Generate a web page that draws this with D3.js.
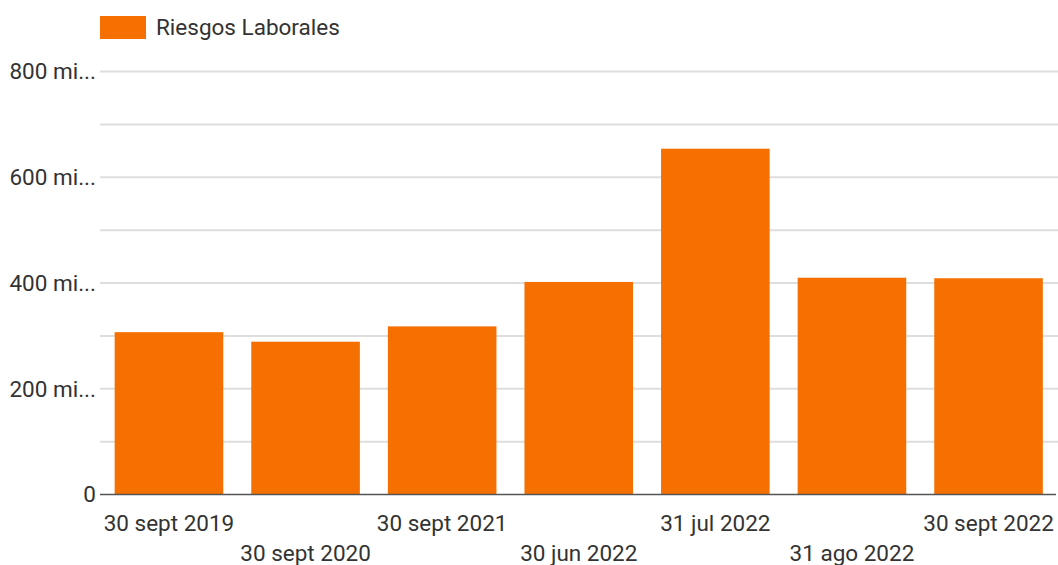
<!DOCTYPE html>
<html><head><meta charset="utf-8">
<script src="https://cdn.jsdelivr.net/npm/d3@7"></script>
<style>body{margin:0;background:#fff}svg{display:block}text{font-family:Roboto,sans-serif}</style>
</head><body>
<svg id="c" width="1058" height="565"></svg>
<script>
const categories = ["30 sept 2019","30 sept 2020","30 sept 2021","30 jun 2022","31 jul 2022","31 ago 2022","30 sept 2022"];
const values = [307, 289, 318, 402, 654, 410, 409];
const seriesName = "Riesgos Laborales";
const yTicks = [0, 200, 400, 600, 800];
const yTickLabels = ["0", "200 mi...", "400 mi...", "600 mi...", "800 mi..."];
const gridValues = [100, 200, 300, 400, 500, 600, 700, 800];

const svg = d3.select("#c");
const color = "#f57000";
const fs = 22.5;
const x = d3.scaleBand().domain(categories).range([101, 1056.5]).paddingInner(0.205).paddingOuter(0.1);
const y = d3.scaleLinear().domain([0, 800]).range([494.5, 71.5]);

svg.append("g").selectAll("line").data(gridValues).join("line")
  .attr("x1", 100).attr("x2", 1058)
  .attr("y1", d => y(d)).attr("y2", d => y(d))
  .attr("stroke", "#dedede").attr("stroke-width", 2);

svg.append("g").selectAll("rect").data(values).join("rect")
  .attr("x", (d, i) => x(categories[i]))
  .attr("width", x.bandwidth())
  .attr("y", d => y(d))
  .attr("height", d => y(0) - y(d))
  .attr("fill", color);

svg.append("line").attr("x1", 100).attr("x2", 1056).attr("y1", y(0)).attr("y2", y(0))
  .attr("stroke", "#555").attr("stroke-width", 1.5);

svg.append("g").selectAll("text").data(yTicks).join("text")
  .attr("x", 96).attr("y", d => y(d)).attr("dy", "0.35em")
  .attr("text-anchor", "end").attr("font-size", fs).attr("fill", "#333")
  .text((d, i) => yTickLabels[i]);

svg.append("g").selectAll("text").data(categories).join("text")
  .attr("x", d => x(d) + x.bandwidth() / 2)
  .attr("y", (d, i) => i % 2 === 0 ? 531 : 561)
  .attr("text-anchor", "middle").attr("font-size", fs).attr("fill", "#333")
  .text(d => d);

svg.append("rect").attr("x", 100).attr("y", 16).attr("width", 46).attr("height", 23).attr("fill", color);
svg.append("text").attr("x", 156).attr("y", 27.5).attr("dy", "0.35em")
  .attr("font-size", fs).attr("fill", "#333").text(seriesName);
</script>
</body></html>
